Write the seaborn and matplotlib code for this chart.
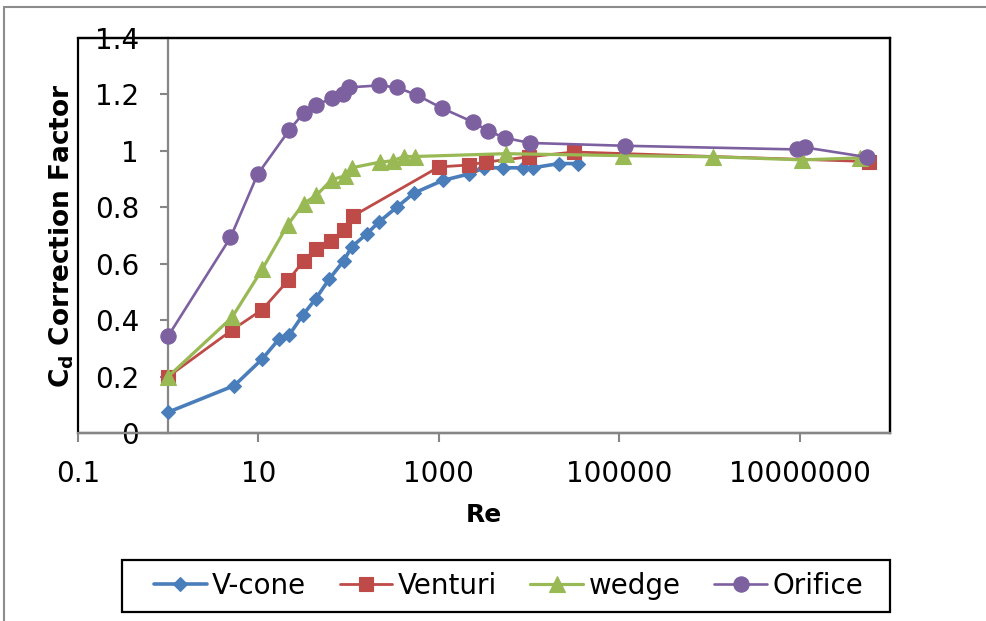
import matplotlib
matplotlib.use("Agg")
import matplotlib.pyplot as plt
from matplotlib.patches import Rectangle
import pandas as pd
import seaborn as sns

# Reynolds number vs discharge-coefficient correction factor for four flow meters
vcone_re = [1, 5.4, 11, 17, 22, 31, 43, 61, 88, 108, 158, 215, 341, 527,
            1100, 2150, 3200, 5100, 8500, 11000, 21500, 35000]
vcone_cd = [0.074, 0.168, 0.262, 0.334, 0.348, 0.418, 0.475, 0.546, 0.61, 0.66,
            0.705, 0.747, 0.80, 0.85, 0.895, 0.918, 0.94, 0.94, 0.94, 0.94,
            0.955, 0.955]

venturi_re = [1, 5.1, 11, 21.5, 31.6, 43, 64, 88, 113, 1000, 2150, 3300,
              10000, 31600, 5.9e7]
venturi_cd = [0.2, 0.365, 0.437, 0.542, 0.61, 0.652, 0.68, 0.72, 0.77, 0.943,
              0.95, 0.96, 0.979, 0.996, 0.962]

wedge_re = [1, 5.1, 11, 21, 31.6, 44, 65, 90, 108, 221, 309, 410, 540, 5500,
            1.1e5, 1.1e6, 1.05e7, 4.6e7]
wedge_cd = [0.2, 0.41, 0.58, 0.737, 0.813, 0.843, 0.898, 0.911, 0.94, 0.96,
            0.965, 0.98, 0.98, 0.99, 0.983, 0.979, 0.968, 0.975]

orifice_re = [1, 4.9, 9.8, 22, 31.6, 44, 65, 86, 102, 215, 340, 570, 1070,
              2400, 3500, 5400, 10200, 1.15e5, 9.3e6, 1.15e7, 5.5e7]
orifice_cd = [0.344, 0.693, 0.917, 1.074, 1.134, 1.163, 1.186, 1.2, 1.225,
              1.232, 1.225, 1.198, 1.152, 1.102, 1.071, 1.046, 1.028, 1.018,
              1.005, 1.012, 0.978]

x_ticks = [0.1, 10, 1000, 100000, 10000000]
x_tick_labels = ["0.1", "10", "1000", "100000", "10000000"]
y_ticks = [0, 0.2, 0.4, 0.6, 0.8, 1, 1.2, 1.4]
y_tick_labels = ["0", "0.2", "0.4", "0.6", "0.8", "1", "1.2", "1.4"]

sns.set_style("white")
plt.rcParams["font.family"] = ["DejaVu Sans"]
plt.rcParams["mathtext.fontset"] = "dejavusans"
plt.rcParams["text.color"] = "black"
plt.rcParams["axes.labelcolor"] = "black"
plt.rcParams["xtick.labelcolor"] = "black"
plt.rcParams["ytick.labelcolor"] = "black"

W, H = 987, 621
fig = plt.figure(figsize=(W / 100, H / 100), dpi=100)
ax = fig.add_axes([78 / W, 1 - 433 / H, 812 / W, 395 / H])

series = [
    ("V-cone", vcone_re, vcone_cd, "#4A7EBB", "D", 7.4, 2.6),
    ("Venturi", venturi_re, venturi_cd, "#BE4B48", "s", 10, 2.0),
    ("wedge", wedge_re, wedge_cd, "#98B954", "^", 11, 2.3),
    ("Orifice", orifice_re, orifice_cd, "#7D60A0", "o", 11, 1.9),
]

for name, xs, ys, col, mk, ms, lw in series:
    df = pd.DataFrame({"Re": xs, "Cd": ys})
    sns.lineplot(data=df, x="Re", y="Cd", ax=ax, color=col, marker=mk,
                 markersize=ms, markeredgecolor=col, markeredgewidth=0.8,
                 linewidth=lw, label=name, sort=False, zorder=3)

ax.set_xscale("log")
ax.set_xlim(0.1, 1e8)
ax.set_ylim(0, 1.4)

ax.set_xticks(x_ticks)
ax.set_xticklabels(x_tick_labels)
ax.xaxis.set_minor_locator(matplotlib.ticker.NullLocator())
ax.set_yticks(y_ticks)
ax.set_yticklabels(y_tick_labels)

axis_grey = "#868686"
# vertical axis crosses the horizontal axis at Re = 1
ax.spines["left"].set_position(("data", 1))
for side in ("left", "bottom"):
    ax.spines[side].set_color(axis_grey)
    ax.spines[side].set_linewidth(1.6)
    ax.spines[side].set_zorder(2.5)
for side in ("top", "right"):
    ax.spines[side].set_color("black")
    ax.spines[side].set_linewidth(1.6)

# plot-area border
ax.add_patch(Rectangle((0, 0), 1, 1, transform=ax.transAxes, fill=False,
                       edgecolor="black", linewidth=1.6, clip_on=False,
                       zorder=0.5))

ax.tick_params(axis="y", direction="out", length=6, width=1.5,
               color=axis_grey, labelsize=20, pad=15, left=True)
ax.tick_params(axis="x", direction="out", length=6.5, width=1.5,
               color=axis_grey, labelsize=20, pad=13, bottom=True)

ax.set_xlabel("Re", fontsize=18, fontweight="bold")
ax.xaxis.set_label_coords(0.5, -0.176)
ax.set_ylabel(r"$\mathbf{C_d}$ Correction Factor", fontsize=19,
              fontweight="bold")
ax.yaxis.set_label_coords(-0.002, 0.5)

leg = ax.legend(loc="center", bbox_to_anchor=(508.5 / W, 1 - 586 / H),
                bbox_transform=fig.transFigure, ncol=4, fontsize=20,
                frameon=False, borderpad=0.35,
                handlelength=1.9, handletextpad=0.2, columnspacing=1.2,
                numpoints=1)

# legend box
fig.add_artist(Rectangle((122 / W, 1 - 612 / H), 768 / W, 52 / H,
                         transform=fig.transFigure, fill=False,
                         edgecolor="black", linewidth=1.6))

# outer chart border
fig.add_artist(Rectangle((4 / W, -0.1), 1.2, 1 - 7 / H + 0.1,
                         transform=fig.transFigure, fill=False,
                         edgecolor="#8c8c8c", linewidth=1.5))

fig.savefig("out.png", dpi=100)
